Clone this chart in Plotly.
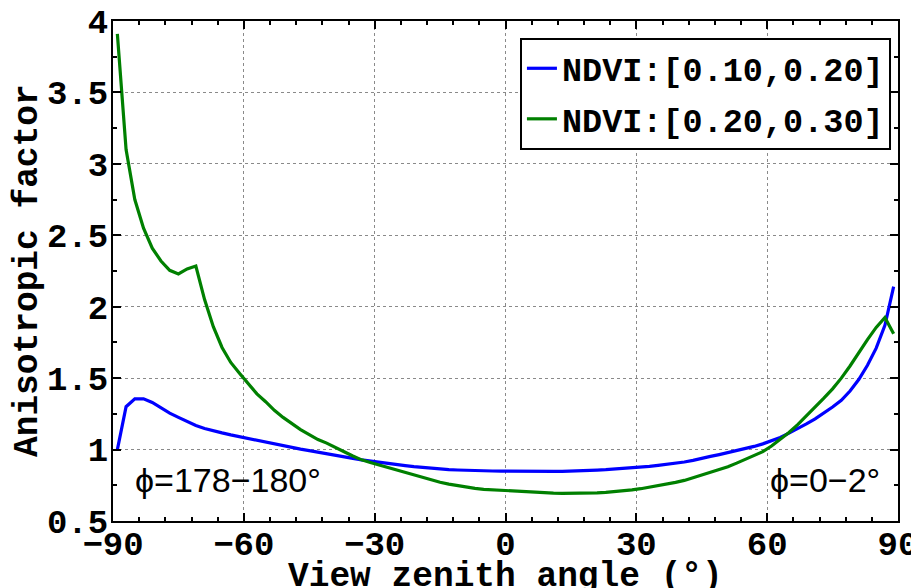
import plotly.graph_objects as go

# View zenith angle (degrees), -89 to 89 step 2
vza = list(range(-89, 90, 2))

ndvi_010_020 = [
    1.000, 1.300, 1.355, 1.355, 1.330, 1.290, 1.255, 1.225, 1.195, 1.168,
    1.148, 1.130, 1.117, 1.103, 1.090, 1.077, 1.064, 1.050, 1.038, 1.026,
    1.014, 1.003, 0.993, 0.981, 0.971, 0.960, 0.948, 0.938, 0.928, 0.919,
    0.911, 0.903, 0.895, 0.887, 0.880, 0.874, 0.869, 0.864, 0.860, 0.857,
    0.854, 0.852, 0.851, 0.850, 0.849, 0.848, 0.847, 0.846, 0.846, 0.846,
    0.847, 0.848, 0.849, 0.851, 0.853, 0.856, 0.859, 0.863, 0.867, 0.871,
    0.876, 0.882, 0.889, 0.896, 0.904, 0.913, 0.924, 0.940, 0.952, 0.965,
    0.978, 0.992, 1.005, 1.022, 1.040, 1.060, 1.085, 1.115, 1.145, 1.180,
    1.215, 1.255, 1.298, 1.345, 1.410, 1.490, 1.590, 1.710, 1.870, 2.140,
]

ndvi_020_030 = [
    3.910, 3.100, 2.750, 2.550, 2.410, 2.320, 2.255, 2.230, 2.265, 2.285,
    2.050, 1.860, 1.715, 1.610, 1.535, 1.460, 1.390, 1.335, 1.275, 1.225,
    1.180, 1.140, 1.105, 1.070, 1.045, 1.012, 0.985, 0.955, 0.928, 0.910,
    0.893, 0.873, 0.855, 0.837, 0.820, 0.803, 0.787, 0.771, 0.758, 0.747,
    0.737, 0.728, 0.722, 0.718, 0.716, 0.713, 0.708, 0.705, 0.700, 0.697,
    0.695, 0.694, 0.694, 0.694, 0.695, 0.697, 0.700, 0.705, 0.711, 0.718,
    0.726, 0.736, 0.747, 0.759, 0.770, 0.784, 0.803, 0.825, 0.845, 0.862,
    0.880, 0.905, 0.930, 0.955, 0.985, 1.025, 1.070, 1.120, 1.175, 1.235,
    1.295, 1.360, 1.425, 1.500, 1.585, 1.680, 1.770, 1.855, 1.925, 1.810,
]

series_names = ["NDVI:[0.10,0.20]", "NDVI:[0.20,0.30]"]
series_colors = ["#0000ff", "#008000"]

x_ticks = [-90, -60, -30, 0, 30, 60, 90]
y_ticks = [0.5, 1, 1.5, 2, 2.5, 3, 3.5, 4]

x_title = "View zenith angle (°)"
y_title = "Anisotropic factor"

mono = "Liberation Mono, Courier New, monospace"
sans = "Liberation Sans, Arial, DejaVu Sans, sans-serif"

fig = go.Figure()
for i, (name, ys, col) in enumerate(zip(series_names, [ndvi_010_020, ndvi_020_030], series_colors)):
    fig.add_trace(go.Scatter(x=vza, y=ys, mode="lines", name=name, legendgroup=f"g{i}",
                             line=dict(color=col, width=3.2)))

axis_common = dict(
    showline=True, linecolor="black", linewidth=2, mirror="allticks",
    ticks="inside", ticklen=8, tickwidth=1.5, tickcolor="black",
    showgrid=True, gridcolor="#8a8a8a", gridwidth=1, griddash="dot",
    zeroline=False, automargin=False, ticklabeloverflow="allow",
    tickfont=dict(family=mono, size=34, color="black", weight="bold"),
)

fig.update_xaxes(
    range=[-90, 90], tickvals=x_ticks, ticktext=[f"{v}".replace("-", "\u2212") for v in x_ticks],
    minor=dict(dtick=6, ticks="inside", ticklen=4, tickcolor="black", showgrid=False, tick0=-90),
    ticklabelstandoff=-9,
    **axis_common,
)
fig.update_yaxes(
    range=[0.5, 4], tickvals=y_ticks, ticktext=[f"{v:g}" for v in y_ticks],
    minor=dict(dtick=0.25, ticks="inside", ticklen=4, tickcolor="black", showgrid=False, tick0=0.5),
    ticklabelstandoff=-4,
    **axis_common,
)

title_font = dict(family=mono, size=34.5, color="black", weight="bold")
fig.add_annotation(x=0.5, y=0, xref="paper", yref="paper", text=x_title,
                   showarrow=False, xanchor="center", yanchor="top", yshift=-34,
                   font=title_font)
fig.add_annotation(x=0, y=0.5, xref="paper", yref="paper", text=y_title,
                   showarrow=False, xanchor="center", yanchor="middle", xshift=-86,
                   textangle=-90, font=title_font)

fig.add_annotation(x=-85.4, y=0.79, xref="x", yref="y", text="ϕ=178\u2212180°",
                   showarrow=False, xanchor="left", yanchor="middle",
                   font=dict(family=sans, size=34, color="black"))
fig.add_annotation(x=86.3, y=0.79, xref="x", yref="y", text="ϕ=0\u22122°",
                   showarrow=False, xanchor="right", yanchor="middle",
                   font=dict(family=sans, size=34, color="black"))

fig.update_layout(
    width=911, height=580,
    margin=dict(l=105, r=21, t=13, b=67),
    paper_bgcolor="white", plot_bgcolor="white",
    showlegend=True,
    legend=dict(x=0.991, y=0.966, xanchor="right", yanchor="top",
                bgcolor="white", bordercolor="black", borderwidth=2,
                font=dict(family=mono, size=33.5, color="black", weight="bold"),
                tracegroupgap=4, itemwidth=30),
)

fig.write_html("out.html")
